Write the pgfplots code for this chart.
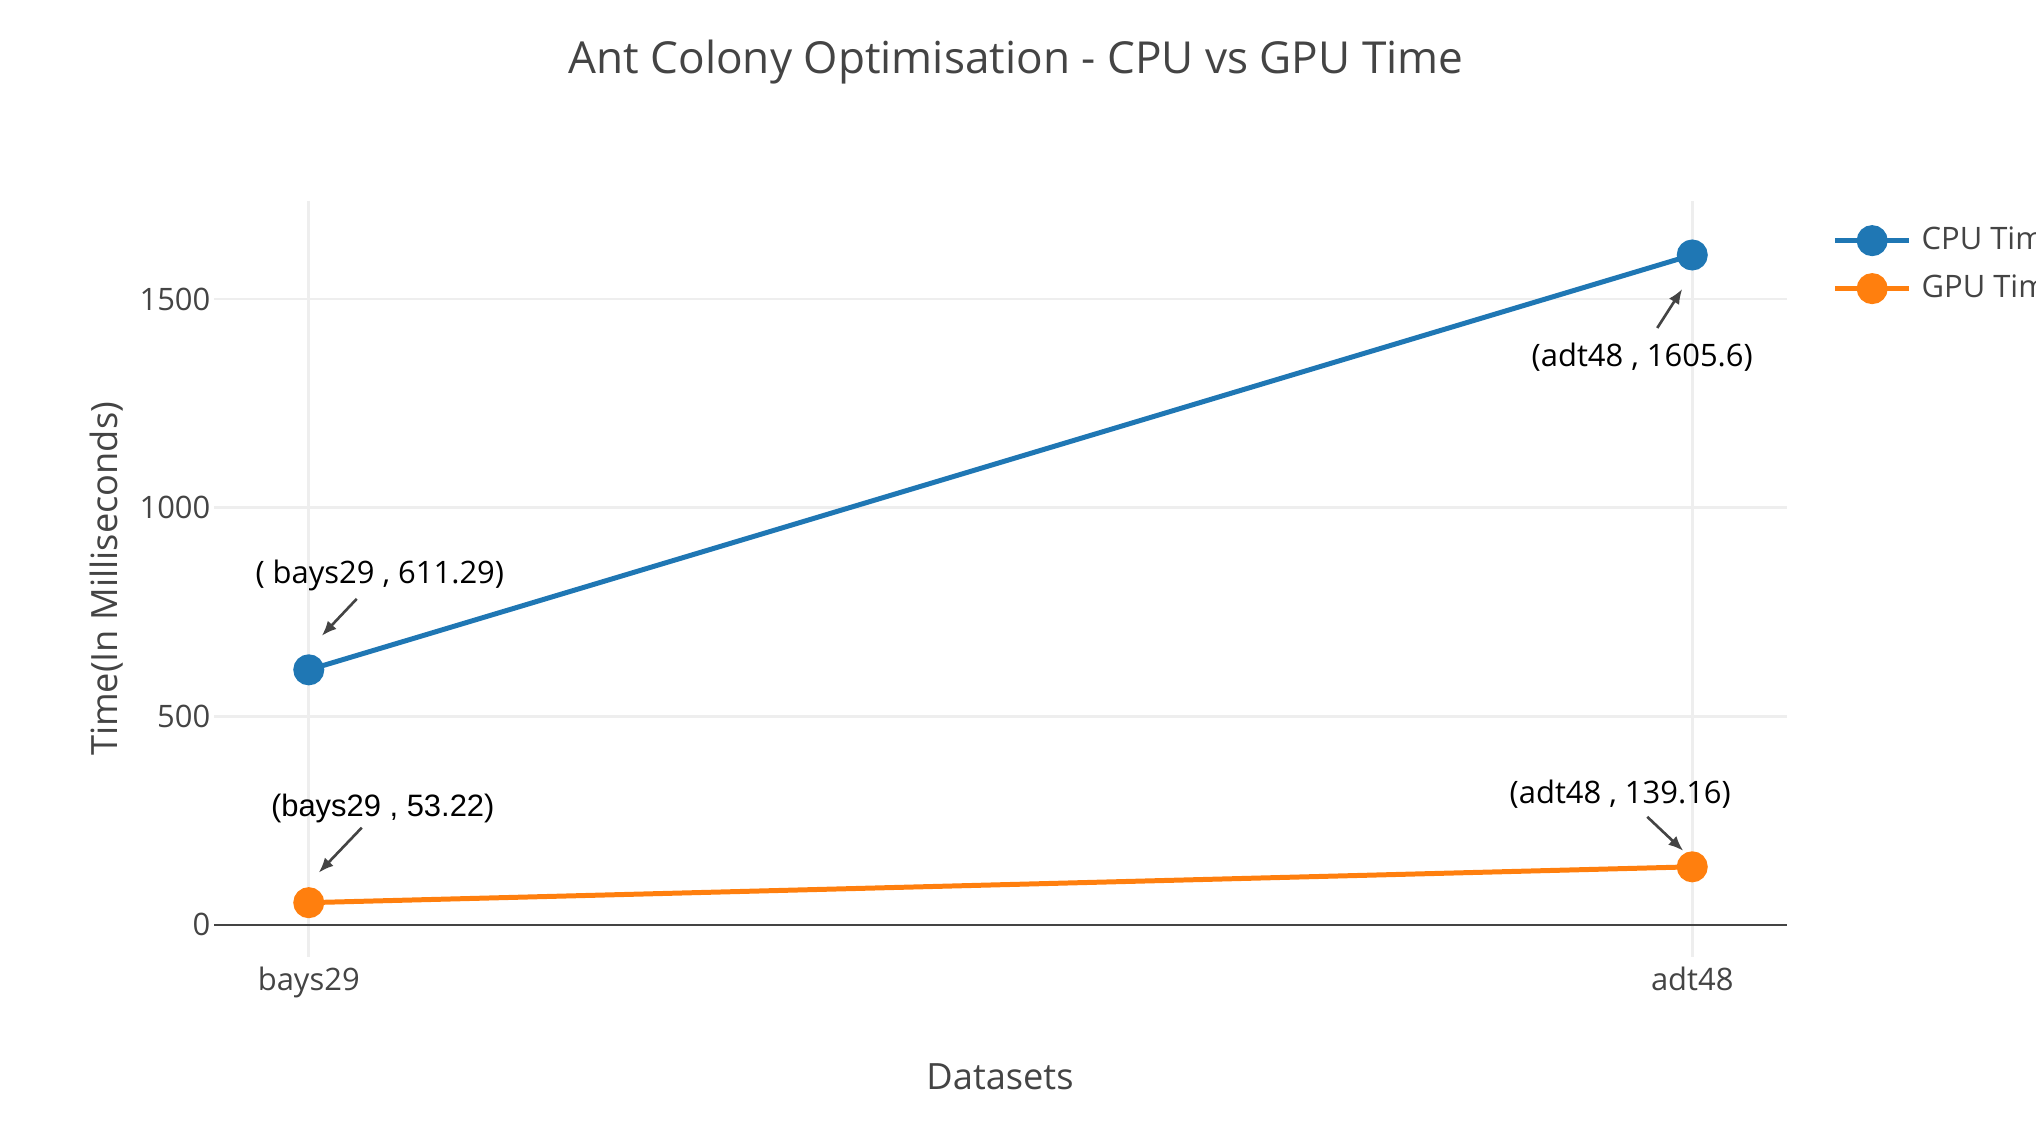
\documentclass[border=0pt]{standalone}
\usepackage{fontspec}
\setmainfont{Open Sans}
\newfontfamily\arialfont{Liberation Sans}
\usepackage{pgfplots}
\pgfplotsset{compat=1.18}
\usetikzlibrary{arrows.meta}

\definecolor{cpublue}{HTML}{1F77B4}
\definecolor{gpuorange}{HTML}{FF7F0E}
\definecolor{plotgrey}{HTML}{444444}
\definecolor{gridgrey}{HTML}{EEEEEE}

% 1 px of the 2036x1124 reference = 0.01cm
\newcommand{\tickfont}{\fontsize{8.8}{10.5}\selectfont}
\newcommand{\labelfont}{\fontsize{10.3}{12.5}\selectfont}
\newcommand{\titlefont}{\fontsize{12.55}{15}\selectfont}

\begin{document}
\begin{tikzpicture}
\begin{axis}[
  at={(2.14cm,-9.57cm)}, anchor=south west,
  scale only axis,
  width=15.73cm, height=7.56cm,
  xmin=-0.0685, xmax=1.0685,
  ymin=-77, ymax=1735,
  xtick={0,1}, xticklabels={bays29,adt48},
  ytick={500,1000,1500},
  extra y ticks={0},
  extra y tick style={major grid style={draw=plotgrey, line width=0.65pt}},
  grid=major,
  major grid style={draw=gridgrey, line width=0.74pt},
  axis line style={draw=none},
  major tick length=0pt,
  tick label style={font=\tickfont, text=plotgrey, inner sep=0pt},
  xticklabel style={anchor=base, yshift=-0.33cm},
  yticklabel style={anchor=east, xshift=-0.03cm},
  /pgf/number format/assume math mode=true,
  /pgf/number format/1000 sep={},
  clip=false,
  legend style={at={(1.0286,0.967)}, anchor=north west, draw=none, fill=none,
    inner sep=0pt, font=\tickfont, text=plotgrey, row sep=0.2cm,
    nodes={inner sep=0pt},
    /tikz/every odd column/.append style={column sep=0.10cm}},
  legend cell align=left,
  legend image code/.code={\draw[#1, mark repeat=2, mark phase=2]
    plot coordinates {(0cm,0cm) (0.37cm,0cm) (0.74cm,0cm)};},
]
\addplot[cpublue, line width=1.42pt, mark=*, mark size=0.13cm,
  mark options={solid, fill=cpublue, draw=none}]
  coordinates {(0,611.29) (1,1605.6)};
\addlegendentry{CPU Time}
\addplot[gpuorange, line width=1.42pt, mark=*, mark size=0.13cm,
  mark options={solid, fill=gpuorange, draw=none}]
  coordinates {(0,53.22) (1,139.16)};
\addlegendentry{GPU Time}

% point annotations
\draw[-{Latex[length=0.15cm,width=0.12cm]}, plotgrey, line width=0.75pt]
  ([xshift=0.48cm,yshift=0.71cm]axis cs:0,611.29) -- ([xshift=0.13cm,yshift=0.34cm]axis cs:0,611.29);
\node[font=\tickfont] at ([xshift=0.71cm,yshift=0.94cm]axis cs:0,611.29) {( bays29 , 611.29)};
\draw[-{Latex[length=0.15cm,width=0.12cm]}, plotgrey, line width=0.75pt]
  ([xshift=-0.35cm,yshift=-0.73cm]axis cs:1,1605.6) -- ([xshift=-0.10cm,yshift=-0.34cm]axis cs:1,1605.6);
\node[font=\tickfont] at ([xshift=-0.50cm,yshift=-1.02cm]axis cs:1,1605.6) {(adt48 , 1605.6)};
\draw[-{Latex[length=0.15cm,width=0.12cm]}, plotgrey, line width=0.75pt]
  ([xshift=0.53cm,yshift=0.75cm]axis cs:0,53.22) -- ([xshift=0.10cm,yshift=0.30cm]axis cs:0,53.22);
\node[font=\tickfont\arialfont] at ([xshift=0.74cm,yshift=0.94cm]axis cs:0,53.22) {(bays29 , 53.22)};
\draw[-{Latex[length=0.15cm,width=0.12cm]}, plotgrey, line width=0.75pt]
  ([xshift=-0.45cm,yshift=0.50cm]axis cs:1,139.16) -- ([xshift=-0.09cm,yshift=0.16cm]axis cs:1,139.16);
\node[font=\tickfont] at ([xshift=-0.72cm,yshift=0.73cm]axis cs:1,139.16) {(adt48 , 139.16)};
\end{axis}

\node[anchor=base, font=\titlefont, text=plotgrey] at (10.16cm,-0.74cm)
  {Ant Colony Optimisation - CPU vs GPU Time};
\node[anchor=base, font=\labelfont, text=plotgrey] at (10.0cm,-10.89cm) {Datasets};
\node[rotate=90, font=\labelfont, text=plotgrey] at (1.07cm,-5.79cm) {Time(In Milliseconds)};

\pgfresetboundingbox
\path[use as bounding box] (0,0) rectangle (20.36cm,-11.24cm);
\end{tikzpicture}
\end{document}
